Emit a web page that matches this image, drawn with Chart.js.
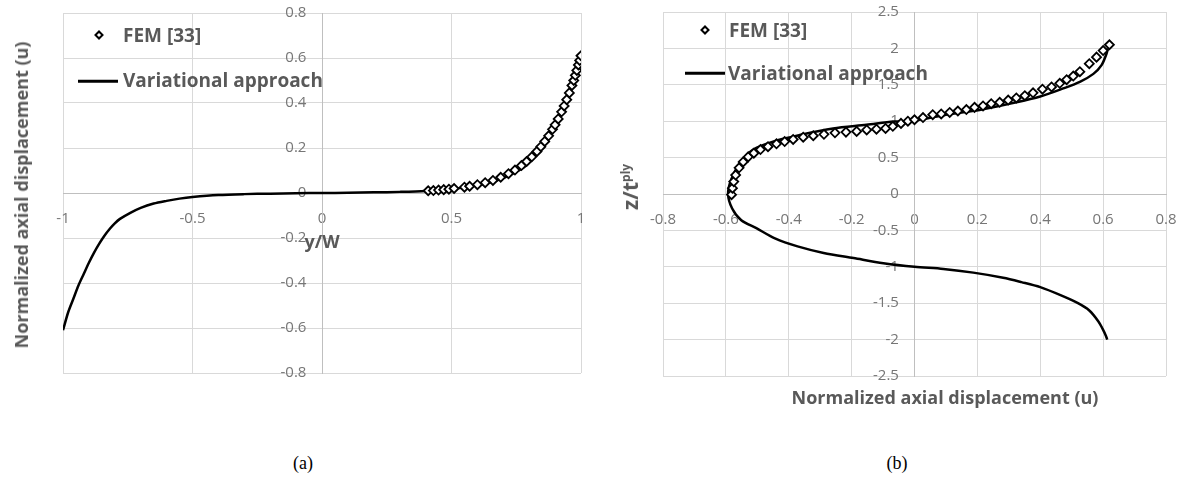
<!DOCTYPE html>
<html>
<head>
<meta charset="utf-8">
<script src="https://cdn.jsdelivr.net/npm/chart.js@4.4.1/dist/chart.umd.min.js"></script>
<style>
  body { margin: 0; background: #fff; width: 1186px; height: 493px; position: relative; overflow: hidden; font-family: "Open Sans", sans-serif; }
  canvas { position: absolute; top: 0; }
  #chartA { left: 0; }
  #chartB { left: 600px; }
  .title { position: absolute; font-weight: bold; color: #595959; font-size: 18px; white-space: nowrap; transform: translate(-50%, -50%); }
  .rot { transform: translate(-50%, -50%) rotate(-90deg); }
  .leg { position: absolute; font-weight: bold; color: #595959; font-size: 19px; white-space: nowrap; transform: translateY(-50%); }
  .dia { position: absolute; width: 7px; height: 7px; box-sizing: border-box; border: 2px solid #000; background: #fff; transform: translate(-50%, -50%) rotate(45deg); }
  .ln { position: absolute; height: 2.5px; background: #000; transform: translateY(-50%); }
  .cap { position: absolute; font-family: "Liberation Serif", serif; font-size: 18px; color: #000; transform: translate(-50%, -50%); }
  sup { font-size: 12px; }
</style>
</head>
<body>
<canvas id="chartA" width="600" height="430"></canvas>
<canvas id="chartB" width="586" height="430"></canvas>

<!-- (a) legend + titles -->
<div class="dia" style="left:99px;top:35px"></div>
<div class="leg" style="left:123px;top:35px">FEM [33]</div>
<div class="ln" style="left:78px;top:81px;width:40px"></div>
<div class="leg" style="left:123px;top:80px">Variational approach</div>
<div class="title rot" style="left:21px;top:195px">Normalized axial displacement (u)</div>
<div class="title" style="left:322px;top:241px">y/W</div>
<div class="cap" style="left:303px;top:463px">(a)</div>

<!-- (b) legend + titles -->
<div class="dia" style="left:705px;top:30px"></div>
<div class="leg" style="left:729px;top:30px">FEM [33]</div>
<div class="ln" style="left:685px;top:73px;width:40px"></div>
<div class="leg" style="left:728px;top:73px">Variational approach</div>
<div class="title rot" style="left:630px;top:187px;font-size:21px">z/t<sup>ply</sup></div>
<div class="title" style="left:945px;top:397px">Normalized axial displacement (u)</div>
<div class="cap" style="left:897px;top:463px">(b)</div>

<script>
// ---- (a) u vs y/W ----
const lineAx = [-1, -0.98, -0.96, -0.94, -0.92, -0.9, -0.88, -0.86, -0.84, -0.82, -0.8, -0.78, -0.74, -0.7, -0.65, -0.6, -0.55, -0.5, -0.4, -0.3, -0.2, -0.1,
  0, 0.1, 0.2, 0.3, 0.4, 0.5, 0.55, 0.6, 0.65, 0.7, 0.74, 0.78, 0.8, 0.82, 0.84, 0.86, 0.88, 0.9, 0.92, 0.94, 0.96, 0.98, 1];
const lineAu = [-0.61, -0.53, -0.47, -0.41, -0.36, -0.31, -0.265, -0.225, -0.19, -0.16, -0.135, -0.115, -0.088, -0.066, -0.047, -0.035, -0.025, -0.018, -0.009, -0.005, -0.003, -0.001,
  0, 0.001, 0.003, 0.005, 0.009, 0.018, 0.025, 0.035, 0.047, 0.066, 0.088, 0.115, 0.135, 0.16, 0.19, 0.225, 0.265, 0.31, 0.36, 0.41, 0.47, 0.53, 0.61];
const femAx = [0.41, 0.43, 0.45, 0.47, 0.49, 0.51, 0.55, 0.57, 0.6, 0.63, 0.66, 0.69, 0.72, 0.745, 0.77, 0.79, 0.81, 0.83, 0.845, 0.86, 0.875,
  0.89, 0.9, 0.912, 0.925, 0.935, 0.945, 0.955, 0.965, 0.972, 0.978, 0.984, 0.99, 0.995, 1];
const femAu = [0.01, 0.011, 0.013, 0.015, 0.017, 0.02, 0.026, 0.03, 0.037, 0.046, 0.056, 0.07, 0.086, 0.102, 0.122, 0.14, 0.161, 0.185, 0.206, 0.229, 0.254,
  0.283, 0.303, 0.329, 0.361, 0.387, 0.415, 0.445, 0.478, 0.5, 0.523, 0.545, 0.569, 0.589, 0.61];

// ---- (b) z/t vs u ----
const lineBu = [0.613, 0.609, 0.598, 0.585, 0.556, 0.52, 0.47, 0.4, 0.34, 0.282, 0.187, 0.092, 0, -0.099, -0.194, -0.289, -0.372, -0.444, -0.503, -0.551, -0.58, -0.593,
  -0.583, -0.556, -0.513, -0.45, -0.365, -0.259, -0.153, -0.066, 0, 0.1, 0.207, 0.313, 0.4, 0.473, 0.526, 0.569, 0.595, 0.611, 0.615];
const lineBz = [-2, -1.95, -1.85, -1.75, -1.6, -1.5, -1.4, -1.28, -1.21, -1.15, -1.08, -1.03, -1, -0.95, -0.88, -0.81, -0.72, -0.61, -0.47, -0.36, -0.2, 0,
  0.2, 0.42, 0.61, 0.72, 0.81, 0.9, 0.95, 0.995, 1.01, 1.09, 1.155, 1.25, 1.34, 1.45, 1.54, 1.65, 1.77, 1.93, 2];
const femBu = [-0.582, -0.579, -0.575, -0.569, -0.558, -0.545, -0.529, -0.511, -0.49, -0.466, -0.439, -0.413, -0.386, -0.354, -0.322, -0.288, -0.253, -0.218,
  -0.184, -0.152, -0.121, -0.092, -0.069, -0.043, -0.021, 0, 0.027, 0.058, 0.085, 0.112, 0.138, 0.165, 0.191, 0.218, 0.244, 0.271, 0.298, 0.324, 0.351,
  0.377, 0.407, 0.436, 0.462, 0.484, 0.505, 0.526, 0.556, 0.579, 0.6, 0.62];
const femBz = [-0.01, 0.08, 0.17, 0.26, 0.36, 0.44, 0.51, 0.56, 0.61, 0.65, 0.69, 0.72, 0.75, 0.78, 0.8, 0.82, 0.84, 0.85,
  0.86, 0.88, 0.89, 0.9, 0.93, 0.97, 1, 1.02, 1.05, 1.09, 1.1, 1.12, 1.14, 1.16, 1.19, 1.21, 1.24, 1.26, 1.29, 1.32, 1.35,
  1.39, 1.44, 1.47, 1.52, 1.57, 1.62, 1.68, 1.79, 1.88, 1.97, 2.05];

const legendLabels = ["FEM [33]", "Variational approach"];

Chart.defaults.font.family = "'Open Sans', sans-serif";

function pts(xs, ys) {
  return xs.map((x, i) => ({ x: x, y: ys[i] }));
}

function fmt(v) {
  return String(Math.round(v * 10) / 10);
}

// y labels sit right on the centred axis, so pad them with spaces
function fmtY(v) {
  return fmt(v) + "    ";
}

// keep label overhang from shrinking the plot area, the layout padding sets it
function noOverhang(scale) {
  scale.paddingLeft = 0;
  scale.paddingRight = 0;
  scale.paddingTop = 0;
  scale.paddingBottom = 0;
}

function axis(min, max, step, pos, pad, cb) {
  return {
    type: "linear",
    min: min,
    max: max,
    position: pos,
    afterFit: noOverhang,
    ticks: { stepSize: step, padding: pad, color: "#767676", font: { size: 15 }, autoSkip: false, maxRotation: 0, callback: cb },
    grid: { color: "#d9d9d9", lineWidth: 1, drawTicks: false },
    border: { color: "#bfbfbf", width: 1 }
  };
}

function makeChart(id, fem, line, xs, ys, padding) {
  return new Chart(document.getElementById(id), {
    type: "scatter",
    data: {
      datasets: [
        {
          label: legendLabels[0],
          data: fem,
          pointStyle: "rectRot",
          pointRadius: 4.5,
          borderColor: "#000",
          backgroundColor: "#fff",
          borderWidth: 1.8,
          showLine: false
        },
        {
          label: legendLabels[1],
          data: line,
          showLine: true,
          borderColor: "#000",
          borderWidth: 2.5,
          pointRadius: 0,
          tension: 0.3,
          fill: false
        }
      ]
    },
    options: {
      responsive: false,
      animation: false,
      devicePixelRatio: 1,
      layout: { padding: padding },
      plugins: { legend: { display: false }, tooltip: { enabled: false } },
      scales: { x: xs, y: ys }
    }
  });
}

makeChart("chartA", pts(femAx, femAu), pts(lineAx, lineAu),
  axis(-1, 1, 0.5, { y: 0 }, 17, fmt),
  axis(-0.8, 0.8, 0.2, { x: 0 }, 0, fmtY),
  { left: 63, top: 13, right: 19, bottom: 57 });

makeChart("chartB", pts(femBu, femBz), pts(lineBu, lineBz),
  axis(-0.8, 0.8, 0.2, { y: 0 }, 17, fmt),
  axis(-2.5, 2.5, 0.5, { x: 0 }, 0, fmtY),
  { left: 63, top: 12, right: 20, bottom: 54 });
</script>
</body>
</html>
